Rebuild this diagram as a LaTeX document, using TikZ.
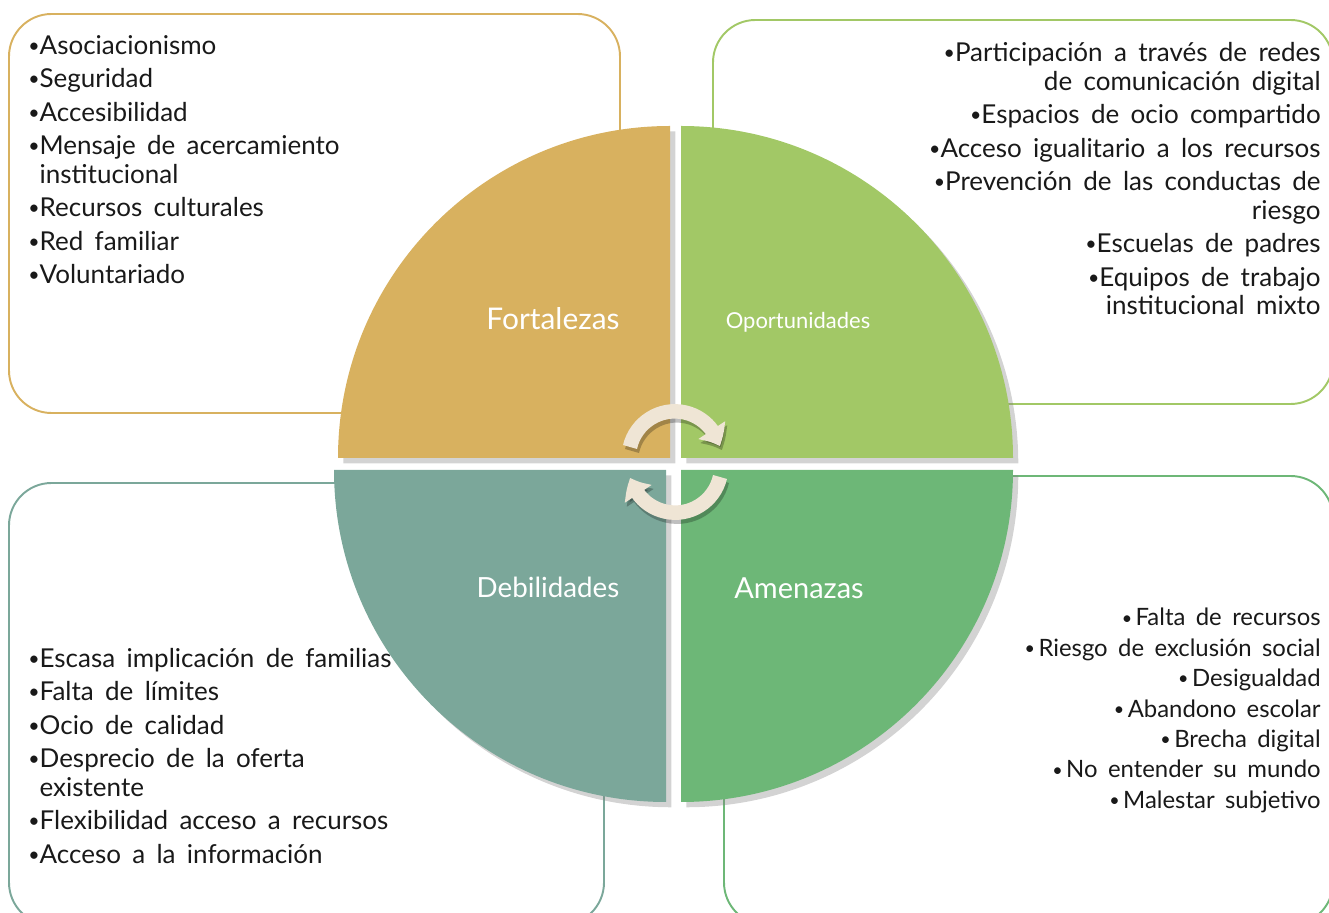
\documentclass[tikz,border=0pt]{standalone}
\usepackage{fontspec}
\setmainfont{Lato}[WordSpace=1.7]
\usetikzlibrary{arrows.meta, shadows, bending}
\definecolor{fgold}{HTML}{D8B15F}
\definecolor{ogreen}{HTML}{A2C866}
\definecolor{dteal}{HTML}{7BA79A}
\definecolor{agreen}{HTML}{6DB777}
\definecolor{cream}{HTML}{EFE5D5}
\newcommand{\sbul}{\raisebox{0.15ex}{\scalebox{0.75}{\textbullet}}}
\tikzset{
  swotbox/.style={line width=1.1pt, rounded corners=0.85cm},
  pie/.style={drop shadow={opacity=0.35, shadow xshift=3pt, shadow yshift=-3pt}},
  itemtext/.style={font=\fontsize{14.8}{16.4}\selectfont, inner sep=0pt, text=black!90},
  pielabel/.style={text=white, inner sep=0pt},
  cycarrow/.style={draw=cream, line width=0.29cm, -{Triangle[length=0.36cm, width=0.62cm, bend]}},
  cycshadow/.style={draw=black, opacity=0.25, line width=0.29cm, -{Triangle[length=0.36cm, width=0.62cm, bend]}},
}
\begin{document}
\begin{tikzpicture}[x=0.02cm, y=0.02cm]
\useasboundingbox (0,0) rectangle (1329,913);
\clip (0,0) rectangle (1329,913);
% outer boxes
\draw[swotbox, fgold] (9,899) rectangle (620,500);
\draw[swotbox, ogreen] (713,893) rectangle (1333,509);
\draw[swotbox, dteal] (9,430) rectangle (604,-12);
\draw[swotbox, agreen] (724,437) rectangle (1333,-12);
% quarter discs
\fill[fgold, pie] (670,455) -- (670,787) arc (90:180:332) -- cycle;
\fill[ogreen, pie] (681,455) -- (1013,455) arc (0:90:332) -- cycle;
\fill[dteal, pie] (666,443) -- (334,443) arc (180:270:332) -- cycle;
\fill[agreen, pie] (681,443) -- (681,111) arc (270:360:332) -- cycle;
\node[pielabel, font=\fontsize{17}{19}\selectfont] (fort) at (553,594) {Fortalezas};
\node[pielabel, font=\fontsize{12.5}{14}\selectfont] (oport) at (798,591) {Oportunidades};
\node[pielabel, font=\fontsize{15.8}{18}\selectfont] (debil) at (548,326) {Debilidades};
\node[pielabel, font=\fontsize{16.5}{19}\selectfont] (amen) at (799,325) {Amenazas};
% cycle arrows
\draw[cycshadow] (632,462) arc (167:14:46);
\draw[cycarrow] (630,466) arc (167:14:46);
\draw[cycshadow] (722,432) arc (-13:-166:46);
\draw[cycarrow] (720,436) arc (-13:-166:46);
% lists
\node[itemtext, anchor=north west, align=left] (fortlist) at (28,878) {%
\sbul Asociacionismo\\[2.6pt]
\sbul Seguridad\\[2.6pt]
\sbul Accesibilidad\\[2.6pt]
\sbul Mensaje de acercamiento\\
\phantom{\sbul}institucional\\[2.6pt]
\sbul Recursos culturales\\[2.6pt]
\sbul Red familiar\\[2.6pt]
\sbul Voluntariado};
\node[itemtext, anchor=north east, align=right] (oportlist) at (1321,871) {%
\sbul Participación a través de redes\\
de comunicación digital\\[2.6pt]
\sbul Espacios de ocio compartido\\[2.6pt]
\sbul Acceso igualitario a los recursos\\[2.6pt]
\sbul Prevención de las conductas de\\
riesgo\\[2.6pt]
\sbul Escuelas de padres\\[2.6pt]
\sbul Equipos de trabajo\\
institucional mixto};
\node[itemtext, anchor=north west, align=left] (debillist) at (28,265) {%
\sbul Escasa implicación de familias\\[2.6pt]
\sbul Falta de límites\\[2.6pt]
\sbul Ocio de calidad\\[2.6pt]
\sbul Desprecio de la oferta\\
\phantom{\sbul}existente\\[2.6pt]
\sbul Flexibilidad acceso a recursos\\[2.6pt]
\sbul Acceso a la información};
\node[itemtext, anchor=north east, align=right, font=\fontsize{13.6}{17.3}\selectfont] (amenlist) at (1321,305) {%
\sbul\hspace{2pt}Falta de recursos\\
\sbul\hspace{2pt}Riesgo de exclusión social\\
\sbul\hspace{2pt}Desigualdad\\
\sbul\hspace{2pt}Abandono escolar\\
\sbul\hspace{2pt}Brecha digital\\
\sbul\hspace{2pt}No entender su mundo\\
\sbul\hspace{2pt}Malestar subjetivo};
\end{tikzpicture}
\end{document}
